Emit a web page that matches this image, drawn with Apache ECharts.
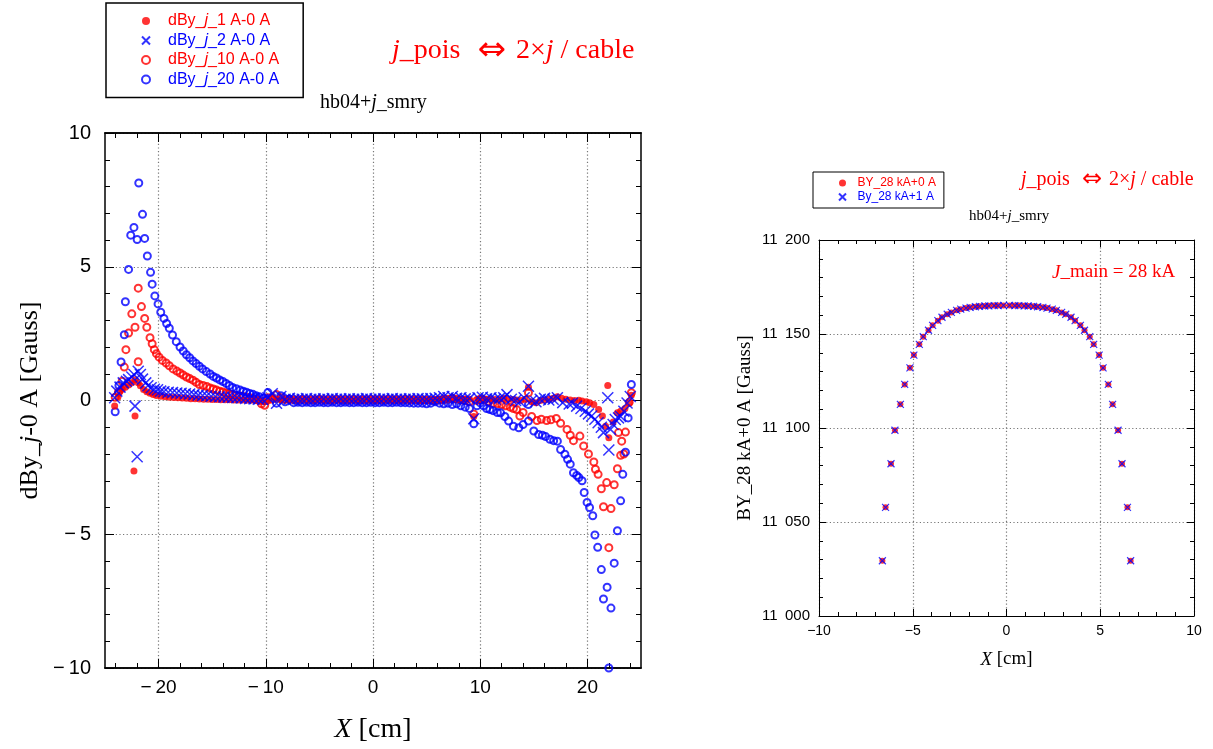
<!DOCTYPE html>
<html>
<head>
<meta charset="utf-8">
<script src="https://cdn.jsdelivr.net/npm/echarts@6/dist/echarts.min.js"></script>
<style>
  html, body { margin: 0; padding: 0; background: #fff; }
  #chart { width: 1213px; height: 749px; }
</style>
</head>
<body>
<div id="chart"></div>
<script>
// ---------- left panel: dBy differences vs X [cm] ----------
// shared X positions through the quiet middle region
const flatX = [-9.8,-9.4,-9.0,-8.6,-8.2,-7.8,-7.4,-7.0,-6.6,-6.2,-5.8,-5.4,-5.0,-4.6,-4.2,-3.8,-3.4,-3.0,-2.6,-2.2,-1.8,-1.4,-1.0,-0.6,-0.2,0.2,0.6,1.0,1.4,1.8,2.2,2.6,3.0,3.4,3.8,4.2,4.6,5.0,5.4,5.8,6.2,6.6];

// dBy_j_1 A-0 A
const j1Left = [[-24.1,-0.21],[-23.8,0.12],[-23.6,0.35],[-23.4,0.42],[-23.1,0.5],[-22.8,0.58],[-22.5,0.66],[-22.2,0.78],[-22.2,-0.58],[-22.3,-2.64],[-21.9,0.66],[-21.7,0.55],[-21.4,0.41],[-21.1,0.33],[-20.8,0.27],[-20.5,0.22],[-20.2,0.19],[-19.8,0.16],[-19.4,0.14],[-19.0,0.12],[-18.6,0.11],[-18.2,0.1],[-17.8,0.09],[-17.4,0.08],[-17.0,0.07],[-16.6,0.07],[-16.2,0.06],[-15.8,0.05],[-15.4,0.05],[-15.0,0.04],[-14.6,0.04],[-14.2,0.03],[-13.8,0.03],[-13.4,0.03],[-13.0,0.02],[-12.6,0.02],[-12.2,0.02],[-11.8,0.01],[-11.4,0.01],[-11.0,0.01],[-10.6,0.0],[-10.2,-0.05]];
const j1Flat = [-0.02,0.12,0.05,0.03,0.02,0.03,0.02,0.02,0.03,0.02,0.02,0.02,0.03,0.02,0.02,0.02,0.02,0.03,0.02,0.02,0.02,0.02,0.02,0.02,0.02,0.02,0.02,0.02,0.02,0.02,0.03,0.02,0.02,0.02,0.03,0.02,0.02,0.03,0.03,0.04,0.05,0.08];
const j1Right = [[7.0,0.06],[7.4,0.1],[7.8,0.05],[8.2,0.04],[8.6,0.06],[9.0,0.05],[9.4,-0.6],[9.8,0.05],[10.2,0.08],[10.6,0.05],[11.0,0.06],[11.4,0.04],[11.8,0.05],[12.2,0.08],[12.6,0.06],[13.0,0.04],[13.4,0.02],[13.8,0.0],[14.2,0.05],[14.5,0.5],[14.8,-0.05],[15.2,-0.08],[15.6,0.0],[16.0,0.02],[16.4,0.05],[16.8,0.08],[17.2,0.14],[17.6,0.08],[18.0,0.05],[18.4,0.02],[18.8,0.0],[19.2,0.01],[19.5,-0.02],[19.9,-0.05],[20.2,-0.08],[20.6,-0.15],[21.05,-0.34],[21.4,-0.58],[21.7,-0.96],[22.0,-1.39],[21.9,0.56],[22.4,-0.8],[22.8,-0.46],[23.1,-0.4],[23.5,-0.3],[23.9,-0.09],[24.1,0.2]];

// dBy_j_2 A-0 A
const j2Left = [[-24.1,0.1],[-23.9,0.35],[-23.6,0.5],[-23.3,0.66],[-23.0,0.72],[-22.8,0.78],[-22.5,0.88],[-22.3,0.97],[-22.2,-0.21],[-22.0,-2.1],[-21.9,1.09],[-21.7,0.97],[-21.5,0.8],[-21.2,0.66],[-21.0,0.55],[-20.7,0.48],[-20.4,0.42],[-20.1,0.4],[-19.8,0.35],[-19.5,0.33],[-19.1,0.31],[-18.7,0.3],[-18.3,0.28],[-17.9,0.27],[-17.5,0.25],[-17.1,0.24],[-16.7,0.22],[-16.3,0.2],[-15.9,0.19],[-15.5,0.18],[-15.1,0.16],[-14.7,0.15],[-14.3,0.14],[-13.9,0.13],[-13.5,0.12],[-13.1,0.11],[-12.7,0.1],[-12.3,0.09],[-11.9,0.08],[-11.5,0.07],[-11.1,0.06],[-10.7,0.05],[-10.3,0.04]];
const j2Flat = [0.1,0.25,-0.1,0.15,0.05,0.08,0.04,0.06,0.05,0.07,0.05,0.06,0.04,0.06,0.05,0.07,0.05,0.06,0.05,0.06,0.05,0.06,0.05,0.07,0.05,0.06,0.05,0.06,0.05,0.07,0.05,0.06,0.05,0.06,0.05,0.07,0.06,0.05,0.07,0.08,0.1,0.15];
const j2Right = [[7.0,0.1],[7.4,0.15],[7.8,0.08],[8.2,0.1],[8.6,0.06],[9.0,0.08],[9.4,-0.68],[9.8,0.1],[10.2,0.12],[10.6,0.06],[11.0,0.1],[11.4,0.05],[11.8,0.08],[12.2,0.1],[12.5,0.22],[12.9,0.05],[13.3,0.0],[13.7,-0.05],[14.1,0.1],[14.5,0.53],[14.8,0.0],[15.2,-0.05],[15.6,0.05],[16.0,0.08],[16.4,0.02],[16.8,0.05],[17.2,0.1],[17.7,-0.08],[18.3,-0.13],[18.6,-0.1],[19.0,-0.21],[19.4,-0.3],[19.8,-0.4],[20.1,-0.5],[20.4,-0.58],[20.7,-0.7],[21.0,-0.83],[21.3,-1.0],[21.5,-1.2],[21.9,0.1],[22.0,-1.85],[22.15,-1.08],[22.4,-0.9],[22.6,-0.71],[22.9,-0.65],[23.1,-0.6],[23.4,-0.4],[23.7,-0.09],[24.0,0.15]];

// dBy_j_10 A-0 A
const j10Left = [[-24.05,0.12],[-23.75,0.31],[-23.4,0.72],[-23.2,1.25],[-23.05,1.9],[-22.8,2.52],[-22.5,3.24],[-22.2,2.74],[-21.9,1.45],[-21.9,4.2],[-21.6,3.51],[-21.3,3.07],[-21.1,2.74],[-20.8,2.35],[-20.6,2.12],[-20.4,1.9],[-20.2,1.75],[-19.95,1.62],[-19.65,1.5],[-19.3,1.4],[-19.0,1.3],[-18.65,1.18],[-18.3,1.1],[-18.0,1.03],[-17.7,0.95],[-17.4,0.88],[-17.1,0.82],[-16.8,0.76],[-16.5,0.68],[-16.2,0.6],[-15.85,0.56],[-15.5,0.52],[-15.2,0.47],[-14.9,0.43],[-14.6,0.39],[-14.3,0.35],[-14.0,0.32],[-13.7,0.28],[-13.4,0.25],[-13.1,0.22],[-12.75,0.19],[-12.4,0.17],[-12.1,0.15],[-11.8,0.12],[-11.5,0.1],[-11.2,0.07],[-10.9,0.04],[-10.6,0.0],[-10.4,-0.12],[-10.1,-0.18]];
const j10Flat = [0.1,0.05,0.22,0.1,0.04,0.05,0.03,0.03,0.04,0.03,0.03,0.03,0.04,0.03,0.03,0.03,0.04,0.03,0.03,0.03,0.04,0.03,0.03,0.03,0.04,0.03,0.03,0.03,0.04,0.03,0.03,0.03,0.04,0.03,0.03,0.03,0.02,0.02,0.01,0.0,0.02,0.03];
const j10Right = [[7.0,0.05],[7.4,0.08],[7.8,0.05],[8.2,0.02],[8.6,0.0],[9.0,-0.05],[9.4,-0.5],[9.7,0.0],[10.0,0.05],[10.4,0.02],[10.8,-0.05],[11.2,-0.1],[11.6,-0.12],[12.0,-0.15],[12.4,-0.2],[12.8,-0.25],[13.1,-0.3],[13.4,-0.34],[13.7,-0.58],[14.0,-0.45],[14.5,0.29],[14.8,-0.6],[15.3,-0.75],[15.7,-0.7],[16.2,-0.75],[16.6,-0.72],[17.1,-0.67],[17.5,-0.85],[18.1,-1.08],[18.4,-1.3],[18.7,-1.5],[19.3,-1.33],[19.65,-1.7],[20.1,-2.0],[20.6,-2.3],[20.75,-2.57],[21.0,-2.76],[21.3,-3.3],[21.5,-3.97],[21.8,-3.07],[22.0,-5.5],[22.2,-4.04],[22.5,-3.15],[22.8,-2.55],[22.9,-1.2],[23.1,-2.05],[23.4,-2.0],[23.2,-1.52],[23.55,-1.18],[23.9,-0.07],[24.1,0.29]];

// dBy_j_20 A-0 A
const j20Left = [[-24.05,-0.42],[-23.7,0.56],[-23.5,1.44],[-23.2,2.46],[-23.1,3.69],[-22.8,4.9],[-22.6,6.18],[-22.3,6.47],[-22.0,6.02],[-21.85,8.13],[-21.5,6.96],[-21.3,6.06],[-21.05,5.4],[-20.75,4.79],[-20.6,4.35],[-20.35,3.91],[-20.05,3.61],[-19.8,3.3],[-19.5,3.07],[-19.25,2.88],[-19.0,2.7],[-18.7,2.45],[-18.35,2.2],[-18.0,2.0],[-17.7,1.85],[-17.4,1.71],[-17.1,1.6],[-16.8,1.48],[-16.5,1.38],[-16.2,1.28],[-15.9,1.18],[-15.55,1.08],[-15.2,0.99],[-14.9,0.9],[-14.6,0.84],[-14.3,0.77],[-14.0,0.71],[-13.7,0.64],[-13.4,0.56],[-13.1,0.49],[-12.75,0.44],[-12.4,0.39],[-12.1,0.35],[-11.8,0.31],[-11.5,0.26],[-11.2,0.23],[-10.9,0.18],[-10.6,0.14],[-10.25,0.08],[-10.0,0.0]];
const j20Flat = [0.3,0.12,-0.1,0.18,-0.05,0.05,-0.08,-0.07,-0.08,-0.07,-0.08,-0.08,-0.07,-0.08,-0.08,-0.07,-0.08,-0.08,-0.07,-0.08,-0.08,-0.07,-0.08,-0.08,-0.07,-0.08,-0.08,-0.07,-0.08,-0.08,-0.07,-0.08,-0.08,-0.09,-0.1,-0.1,-0.1,-0.12,-0.1,-0.05,-0.1,-0.12];
const j20Right = [[7.0,-0.1],[7.4,-0.15],[7.8,-0.12],[8.2,-0.2],[8.6,-0.25],[9.0,-0.3],[9.4,-0.87],[9.7,-0.2],[10.0,-0.09],[10.3,-0.2],[10.6,-0.3],[10.9,-0.34],[11.2,-0.38],[11.6,-0.45],[11.9,-0.46],[12.3,-0.6],[12.65,-0.77],[13.1,-0.96],[13.6,-1.02],[14.0,-0.9],[14.5,-0.77],[14.5,-0.15],[15.0,-1.14],[15.45,-1.27],[15.8,-1.3],[16.1,-1.35],[16.5,-1.45],[16.85,-1.5],[17.2,-1.52],[17.5,-1.83],[17.9,-2.01],[18.15,-2.2],[18.4,-2.38],[18.7,-2.7],[19.0,-2.8],[19.2,-2.88],[19.5,-3.0],[19.7,-3.44],[19.97,-3.81],[20.2,-4.0],[20.5,-4.31],[20.7,-5.03],[20.96,-5.49],[21.3,-6.32],[21.5,-7.42],[21.84,-6.98],[22.0,-10.0],[22.2,-7.76],[22.5,-6.08],[22.8,-4.87],[23.1,-3.75],[23.3,-2.76],[23.55,-1.93],[23.8,-0.65],[24.1,0.6]];

// left panel axis ticks
const leftXMajor = [-20, -10, 0, 10, 20];
const leftXMinor = [-24, -22, -18, -16, -14, -12, -8, -6, -4, -2, 2, 4, 6, 8, 12, 14, 16, 18, 22, 24];

// ---------- right panel: BY at 28 kA ----------
const byX = [-6.62,-6.45,-6.16,-5.95,-5.66,-5.43,-5.15,-4.94,-4.65,-4.44,-4.16,-3.94,-3.66,-3.44,-3.16,-2.94,-2.66,-2.44,-2.16,-1.94,-1.66,-1.44,-1.16,-0.94,-0.66,-0.44,-0.16,0.16,0.44,0.66,0.94,1.16,1.44,1.66,1.94,2.16,2.44,2.66,2.94,3.16,3.44,3.66,3.94,4.16,4.44,4.65,4.94,5.15,5.43,5.66,5.95,6.16,6.45,6.62];
// BY_28 kA+0 A
const by0A = [11029.4,11057.8,11081.0,11098.8,11112.6,11123.2,11132.0,11138.8,11144.5,11148.6,11152.0,11154.6,11157.1,11158.9,11160.5,11161.5,11162.6,11163.2,11163.8,11164.2,11164.5,11164.7,11164.9,11165.0,11165.1,11165.1,11165.2,11165.2,11165.1,11165.1,11165.0,11164.9,11164.7,11164.5,11164.2,11163.8,11163.2,11162.6,11161.5,11160.5,11158.9,11157.1,11154.6,11152.0,11148.6,11144.5,11138.8,11132.0,11123.2,11112.6,11098.8,11081.0,11057.8,11029.4];
// By_28 kA+1 A
const by1A = [11029.4,11057.8,11081.0,11098.8,11112.6,11123.2,11132.0,11138.8,11144.5,11148.6,11152.0,11154.6,11157.1,11158.9,11160.5,11161.5,11162.6,11163.2,11163.8,11164.2,11164.5,11164.7,11164.9,11165.0,11165.1,11165.1,11165.2,11165.2,11165.1,11165.1,11165.0,11164.9,11164.7,11164.5,11164.2,11163.8,11163.2,11162.6,11161.5,11160.5,11158.9,11157.1,11154.6,11152.0,11148.6,11144.5,11138.8,11132.0,11123.2,11112.6,11098.8,11081.0,11057.8,11029.4];

// ---------- styling ----------
const RED = '#ff0000';
const BLUE = '#0000ff';
const SERIF = '"Liberation Serif", "DejaVu Serif", serif';
const SANS = '"Liberation Sans", Arial, sans-serif';
const ARROW_FONT = '"DejaVu Sans", sans-serif';
const CROSS = 'path://M0,0L10,10M10,0L0,10';
const CLEAR = 'rgba(0,0,0,0)';

const zip = (xs, ys) => xs.map((x, i) => [x, ys[i]]);
const minus = v => String(v).replace('-', '\u2212\u2009');
const italic = (size, color) => ({ fontStyle: 'italic', fontFamily: SERIF, fontSize: size, color: color });
const arrow = (size, color, pad) => ({ fontFamily: ARROW_FONT, fontSize: size, color: color, padding: [0, pad, 0, pad] });

const frameLine = w => ({ show: true, onZero: false, lineStyle: { color: '#000', width: w } });
const dotted = { show: true, lineStyle: { color: '#777', width: 1.2, type: [1.2, 2.4] } };

const headline = '{i|j}_pois  {a|\u21d4} 2\u00d7{i|j} / cable';

const chart = echarts.init(document.getElementById('chart'), null, { renderer: 'canvas' });

chart.setOption({
  animation: false,
  backgroundColor: '#fff',
  title: [
    { text: headline, left: 387, top: 29,
      textStyle: { fontFamily: SERIF, fontSize: 28, fontWeight: 'normal', color: RED,
        rich: { i: italic(28, RED), a: arrow(34, RED, 3) } } },
    { text: 'hb04+{i|j}_smry', left: 315, top: 88,
      textStyle: { fontFamily: SERIF, fontSize: 20, fontWeight: 'normal', color: '#000', rich: { i: italic(20, '#000') } } },
    { text: headline, left: 1016, top: 163,
      textStyle: { fontFamily: SERIF, fontSize: 20, fontWeight: 'normal', color: RED,
        rich: { i: italic(20, RED), a: arrow(24, RED, 2) } } },
    { text: 'hb04+{i|j}_smry', left: 964, top: 204,
      textStyle: { fontFamily: SERIF, fontSize: 15, fontWeight: 'normal', color: '#000', rich: { i: italic(15, '#000') } } },
    { text: '{i|J}_main = 28 kA', left: 1047, top: 258,
      textStyle: { fontFamily: SERIF, fontSize: 19, fontWeight: 'normal', color: RED, rich: { i: italic(19, RED) } } }
  ],
  legend: [
    {
      orient: 'vertical', left: 106, top: 3,
      padding: [10, 24, 10, 35], itemGap: 3.5,
      itemWidth: 34, itemHeight: 8,
      borderColor: '#000', borderWidth: 1.5, borderRadius: 0,
      selectedMode: false,
      formatter: name => name.replace('_j_', '_{i|j}_'),
      textStyle: { fontFamily: SANS, fontSize: 16, rich: { i: { fontStyle: 'italic', fontFamily: SANS, fontSize: 16 } } },
      data: [
        { name: 'dBy_j_1 A-0 A', textStyle: { color: RED, rich: { i: { fontStyle: 'italic', fontFamily: SANS, fontSize: 16, color: RED } } } },
        { name: 'dBy_j_2 A-0 A', textStyle: { color: BLUE, rich: { i: { fontStyle: 'italic', fontFamily: SANS, fontSize: 16, color: BLUE } } } },
        { name: 'dBy_j_10 A-0 A', textStyle: { color: RED, rich: { i: { fontStyle: 'italic', fontFamily: SANS, fontSize: 16, color: RED } } } },
        { name: 'dBy_j_20 A-0 A', textStyle: { color: BLUE, rich: { i: { fontStyle: 'italic', fontFamily: SANS, fontSize: 16, color: BLUE } } } }
      ]
    },
    {
      orient: 'vertical', left: 813, top: 172,
      padding: [5, 8, 5, 25], itemGap: 2,
      itemWidth: 20, itemHeight: 7,
      borderColor: '#000', borderWidth: 1, borderRadius: 0,
      selectedMode: false,
      textStyle: { fontFamily: SANS, fontSize: 12 },
      data: [
        { name: 'BY_28 kA+0 A', textStyle: { color: RED } },
        { name: 'By_28 kA+1 A', textStyle: { color: BLUE } }
      ]
    }
  ],
  grid: [
    { left: 105, top: 133, width: 536, height: 537 },
    { left: 819, top: 240, width: 375, height: 376 }
  ],
  xAxis: [
    { // left panel, bottom: labels, major ticks, grid lines
      gridIndex: 0, type: 'value', position: 'bottom', min: -25, max: 25,
      axisLine: frameLine(1.5),
      axisTick: { inside: true, length: 9, customValues: leftXMajor, lineStyle: { color: '#000' } },
      axisLabel: { customValues: leftXMajor, formatter: minus, fontFamily: SANS, fontSize: 19, color: '#000', margin: 10 },
      splitLine: dotted,
      name: '{i|X} [cm]', nameLocation: 'middle', nameGap: 48,
      nameTextStyle: { fontFamily: SERIF, fontSize: 28, color: '#000', rich: { i: italic(28, '#000') } }
    },
    { // left panel, bottom minor ticks
      gridIndex: 0, type: 'value', position: 'bottom', min: -25, max: 25,
      axisLine: frameLine(1.5),
      axisTick: { inside: true, length: 5, customValues: leftXMinor, lineStyle: { color: '#000' } },
      axisLabel: { show: false }, splitLine: { show: false }
    },
    { // left panel, top major ticks
      gridIndex: 0, type: 'value', position: 'top', min: -25, max: 25,
      axisLine: frameLine(1.5),
      axisTick: { inside: true, length: 9, customValues: leftXMajor, lineStyle: { color: '#000' } },
      axisLabel: { show: false }, splitLine: { show: false }
    },
    { // left panel, top minor ticks
      gridIndex: 0, type: 'value', position: 'top', min: -25, max: 25,
      axisLine: frameLine(1.5),
      axisTick: { inside: true, length: 5, customValues: leftXMinor, lineStyle: { color: '#000' } },
      axisLabel: { show: false }, splitLine: { show: false }
    },
    { // right panel, bottom
      gridIndex: 1, type: 'value', position: 'bottom', min: -10, max: 10, interval: 5,
      axisLine: frameLine(1),
      axisTick: { inside: true, length: 7, lineStyle: { color: '#000' } },
      minorTick: { show: true, splitNumber: 5, length: 4, lineStyle: { color: '#000' } },
      axisLabel: { formatter: v => String(v).replace('-', '\u2212'), fontFamily: SANS, fontSize: 14, color: '#000', margin: 8 },
      splitLine: dotted,
      name: '{i|X} [cm]', nameLocation: 'middle', nameGap: 34,
      nameTextStyle: { fontFamily: SERIF, fontSize: 19, color: '#000', rich: { i: italic(19, '#000') } }
    },
    { // right panel, top
      gridIndex: 1, type: 'value', position: 'top', min: -10, max: 10, interval: 5,
      axisLine: frameLine(1),
      axisTick: { inside: true, length: 7, lineStyle: { color: '#000' } },
      minorTick: { show: true, splitNumber: 5, length: 4, lineStyle: { color: '#000' } },
      axisLabel: { show: false }, splitLine: { show: false }
    }
  ],
  yAxis: [
    { // left panel, left side
      gridIndex: 0, type: 'value', position: 'left', min: -10, max: 10, interval: 5,
      axisLine: frameLine(1.5),
      axisTick: { inside: true, length: 9, lineStyle: { color: '#000' } },
      minorTick: { show: true, splitNumber: 5, length: 5, lineStyle: { color: '#000' } },
      axisLabel: { formatter: minus, fontFamily: SANS, fontSize: 20, color: '#000', margin: 14 },
      splitLine: dotted,
      name: 'dBy_{i|j}-0 A [Gauss]', nameLocation: 'middle', nameGap: 62,
      nameTextStyle: { fontFamily: SERIF, fontSize: 26, color: '#000', rich: { i: italic(26, '#000') } }
    },
    { // left panel, right side
      gridIndex: 0, type: 'value', position: 'right', min: -10, max: 10, interval: 5,
      axisLine: frameLine(1.5),
      axisTick: { inside: true, length: 9, lineStyle: { color: '#000' } },
      minorTick: { show: true, splitNumber: 5, length: 5, lineStyle: { color: '#000' } },
      axisLabel: { show: false }, splitLine: { show: false }
    },
    { // right panel, left side
      gridIndex: 1, type: 'value', position: 'left', min: 11000, max: 11200, interval: 50,
      axisLine: frameLine(1),
      axisTick: { inside: true, length: 7, lineStyle: { color: '#000' } },
      minorTick: { show: true, splitNumber: 5, length: 4, lineStyle: { color: '#000' } },
      axisLabel: { formatter: v => String(v).replace(/(\d\d)(\d\d\d)$/, '$1\u2002$2'), fontFamily: SANS, fontSize: 15, color: '#000', margin: 9 },
      splitLine: dotted,
      name: 'BY_28 kA+0 A [Gauss]', nameLocation: 'middle', nameGap: 64,
      nameTextStyle: { fontFamily: SERIF, fontSize: 19, color: '#000' }
    },
    { // right panel, right side
      gridIndex: 1, type: 'value', position: 'right', min: 11000, max: 11200, interval: 50,
      axisLine: frameLine(1),
      axisTick: { inside: true, length: 7, lineStyle: { color: '#000' } },
      minorTick: { show: true, splitNumber: 5, length: 4, lineStyle: { color: '#000' } },
      axisLabel: { show: false }, splitLine: { show: false }
    }
  ],
  series: [
    { name: 'dBy_j_10 A-0 A', type: 'scatter', xAxisIndex: 0, yAxisIndex: 0,
      symbol: 'circle', symbolSize: 7,
      itemStyle: { color: CLEAR, borderColor: RED, borderWidth: 2 },
      data: [...j10Left, ...zip(flatX, j10Flat), ...j10Right] },
    { name: 'dBy_j_20 A-0 A', type: 'scatter', xAxisIndex: 0, yAxisIndex: 0,
      symbol: 'circle', symbolSize: 7,
      itemStyle: { color: CLEAR, borderColor: BLUE, borderWidth: 2 },
      data: [...j20Left, ...zip(flatX, j20Flat), ...j20Right] },
    { name: 'dBy_j_1 A-0 A', type: 'scatter', xAxisIndex: 0, yAxisIndex: 0,
      symbol: 'circle', symbolSize: 7,
      itemStyle: { color: RED },
      data: [...j1Left, ...zip(flatX, j1Flat), ...j1Right] },
    { name: 'dBy_j_2 A-0 A', type: 'scatter', xAxisIndex: 0, yAxisIndex: 0,
      symbol: CROSS, symbolSize: 11,
      itemStyle: { color: CLEAR, borderColor: BLUE, borderWidth: 1.5 },
      data: [...j2Left, ...zip(flatX, j2Flat), ...j2Right] },
    { name: 'BY_28 kA+0 A', type: 'scatter', xAxisIndex: 4, yAxisIndex: 2,
      symbol: 'circle', symbolSize: 6,
      itemStyle: { color: RED },
      data: zip(byX, by0A) },
    { name: 'By_28 kA+1 A', type: 'scatter', xAxisIndex: 4, yAxisIndex: 2,
      symbol: CROSS, symbolSize: 7,
      itemStyle: { color: CLEAR, borderColor: BLUE, borderWidth: 1.2 },
      data: zip(byX, by1A) }
  ]
});
</script>
</body>
</html>
